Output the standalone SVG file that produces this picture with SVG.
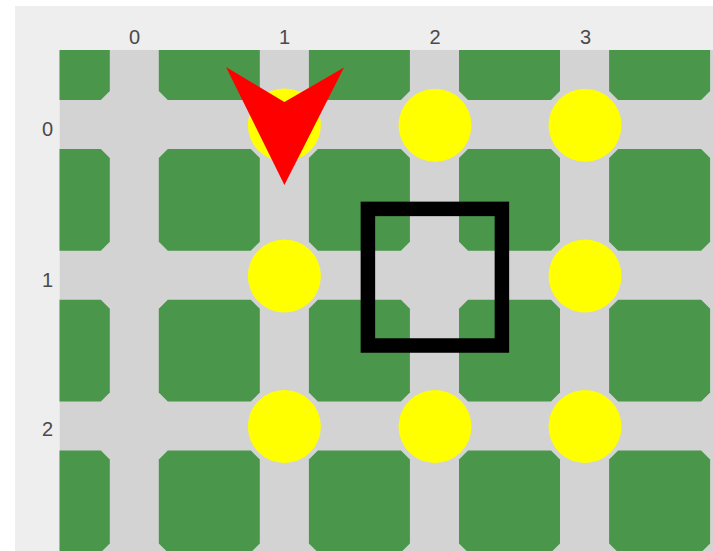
<svg xmlns="http://www.w3.org/2000/svg" xmlns:xlink="http://www.w3.org/1999/xlink" width="713" height="551" viewBox="0 0 713 551">
  <style>
    .lbl { font-family: "Liberation Sans", Arial, sans-serif; font-size: 20px; fill: #4a4a4a; text-anchor: middle; }
    .blk { fill: #4a964a; }
    .dot { fill: #ffff00; }
  </style>
  <defs>
    <clipPath id="gridClip">
      <rect x="59.5" y="50" width="653.5" height="501"/>
    </clipPath>
    <path id="block" d="M9,0 H92 L101,9 V92.8 L92,101.8 H9 L0,92.8 V9 Z"/>
  </defs>
  <rect x="0" y="0" width="713" height="551" fill="#ffffff"/>
  <rect id="panel" x="15" y="6" width="698" height="545" fill="#eeeeee"/>

  <g id="col-labels">
    <text class="lbl" x="134.5" y="44">0</text>
    <text class="lbl" x="284.5" y="44">1</text>
    <text class="lbl" x="435" y="44">2</text>
    <text class="lbl" x="585.5" y="44">3</text>
  </g>
  <g id="row-labels">
    <text class="lbl" x="47.5" y="135.5">0</text>
    <text class="lbl" x="47.5" y="286.5">1</text>
    <text class="lbl" x="47.5" y="435.5">2</text>
  </g>

  <g id="grid" clip-path="url(#gridClip)">
    <rect x="59.5" y="50" width="653.5" height="501" fill="#d3d3d3"/>
    <g id="blocks" class="blk">
      <use xlink:href="#block" x="8.8" y="-1.8"/>
      <use xlink:href="#block" x="158.8" y="-1.8"/>
      <use xlink:href="#block" x="308.9" y="-1.8"/>
      <use xlink:href="#block" x="459" y="-1.8"/>
      <use xlink:href="#block" x="609.1" y="-1.8"/>

      <use xlink:href="#block" x="8.8" y="149"/>
      <use xlink:href="#block" x="158.8" y="149"/>
      <use xlink:href="#block" x="308.9" y="149"/>
      <use xlink:href="#block" x="459" y="149"/>
      <use xlink:href="#block" x="609.1" y="149"/>

      <use xlink:href="#block" x="8.8" y="299.8"/>
      <use xlink:href="#block" x="158.8" y="299.8"/>
      <use xlink:href="#block" x="308.9" y="299.8"/>
      <use xlink:href="#block" x="459" y="299.8"/>
      <use xlink:href="#block" x="609.1" y="299.8"/>

      <use xlink:href="#block" x="8.8" y="450.6"/>
      <use xlink:href="#block" x="158.8" y="450.6"/>
      <use xlink:href="#block" x="308.9" y="450.6"/>
      <use xlink:href="#block" x="459" y="450.6"/>
      <use xlink:href="#block" x="609.1" y="450.6"/>
    </g>
  </g>

  <g id="dots" class="dot">
    <circle id="dot-1-0" cx="284.4" cy="125" r="36.5"/>
    <circle id="dot-2-0" cx="435" cy="125.3" r="36.5"/>
    <circle id="dot-3-0" cx="585" cy="125.3" r="36.5"/>
    <circle id="dot-1-1" cx="284.4" cy="276" r="36.5"/>
    <circle id="dot-3-1" cx="585" cy="276" r="36.5"/>
    <circle id="dot-1-2" cx="284.4" cy="426.5" r="36.5"/>
    <circle id="dot-2-2" cx="435" cy="426.5" r="36.5"/>
    <circle id="dot-3-2" cx="585" cy="426.5" r="36.5"/>
  </g>

  <g id="cursor">
    <rect x="367.9" y="208.9" width="134" height="136.6" fill="none" stroke="#000000" stroke-width="14.5"/>
  </g>

  <g id="arrow">
    <polygon points="226,67 284.4,102 344,67.5 284.4,185" fill="#ff0000"/>
  </g>
</svg>
